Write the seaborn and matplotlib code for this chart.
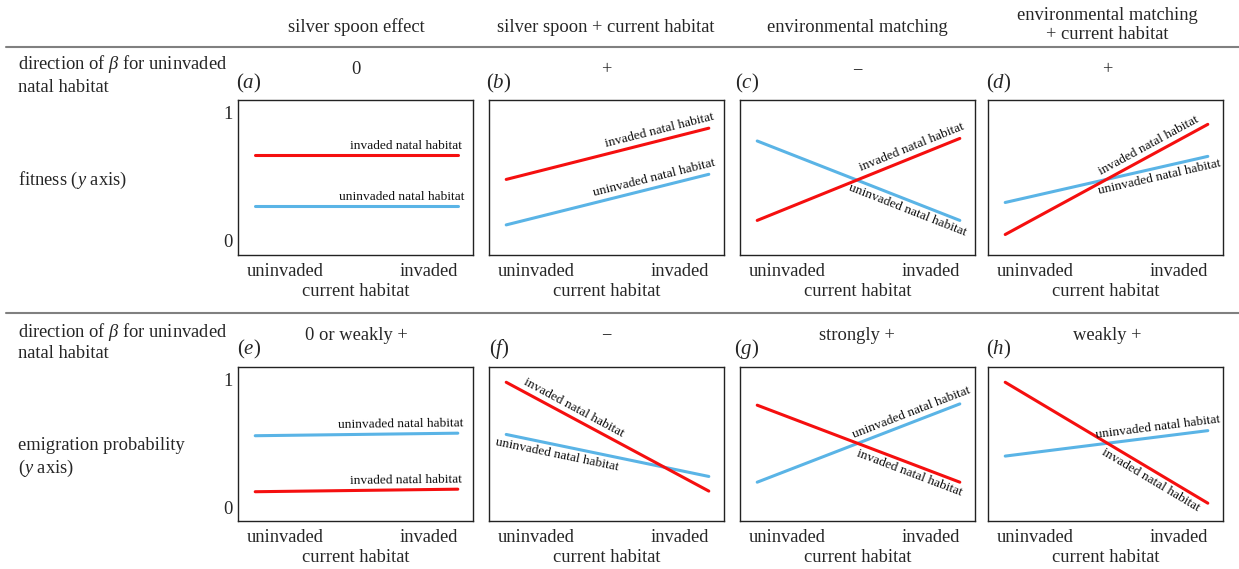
import numpy as np
import pandas as pd
import matplotlib
matplotlib.use("Agg")
import matplotlib.pyplot as plt
import matplotlib.transforms as mtransforms
from matplotlib.lines import Line2D
import seaborn as sns

sns.set_theme(style="white")
plt.rcParams['font.family'] = ['Liberation Serif', 'DejaVu Serif']
plt.rcParams['mathtext.fontset'] = 'custom'
plt.rcParams['mathtext.rm'] = 'Liberation Serif'
plt.rcParams['mathtext.it'] = 'Liberation Serif:italic'

# ---------------- data ----------------
column_titles = ["silver spoon effect", "silver spoon + current habitat",
                 "environmental matching", "environmental matching\n+ current habitat"]
panel_letters = ["a", "b", "c", "d", "e", "f", "g", "h"]
beta_directions = ["0", "+", "\u2212", "+", "0 or weakly +", "\u2212", "strongly +", "weakly +"]
x_ticklabels = ["uninvaded", "invaded"]
current_habitat = [0.0, 1.0]

# (start, end) values at uninvaded / invaded current habitat
invaded_natal = [(0.67, 0.67), (0.48, 0.88), (0.16, 0.80), (0.05, 0.91),
                 (0.12, 0.14), (0.98, 0.125), (0.80, 0.195), (0.98, 0.03)]
uninvaded_natal = [(0.27, 0.27), (0.125, 0.52), (0.78, 0.16), (0.30, 0.66),
                   (0.56, 0.58), (0.57, 0.24), (0.195, 0.81), (0.40, 0.60)]

# label placement: (x centre along line, side: +1 above / -1 below)
inv_label = [(0.745, 1), (0.77, 1), (0.78, 1), (0.73, 1),
             (0.745, 1), (0.31, 1), (0.77, -1), (0.74, -1)]
uninv_label = [(0.725, 1), (0.74, 1), (0.76, -1), (0.75, -1),
               (0.72, 1), (0.26, -1), (0.78, 1), (0.76, 1)]

RED = "#f50f0f"
BLUE = "#5ab4e6"
W, H = 1239, 569
fig = plt.figure(figsize=(W / 100, H / 100), dpi=100)

col_left = [238, 489, 740, 988]
col_w = 235
row_top = [100, 367]
row_h = [155, 154]

MAIN = 13.3
LAB = 9.6

def fx(px):
    return px / W

def fy(py):
    return 1 - py / H

axes = []
for i in range(8):
    r, c = divmod(i, 4)
    ax = fig.add_axes([fx(col_left[c]), fy(row_top[r] + row_h[r]), col_w / W, row_h[r] / H])
    axes.append(ax)

for i, ax in enumerate(axes):
    r, c = divmod(i, 4)
    df = pd.DataFrame({
        "current": current_habitat * 2,
        "value": list(invaded_natal[i]) + list(uninvaded_natal[i]),
        "natal": ["invaded"] * 2 + ["uninvaded"] * 2,
    })
    sns.lineplot(data=df, x="current", y="value", hue="natal",
                 palette={"invaded": RED, "uninvaded": BLUE},
                 hue_order=["uninvaded", "invaded"],
                 linewidth=2.2, legend=False, ax=ax)
    ax.set_xlim(-0.085, 1.075)
    ax.set_ylim(-0.11, 1.10)
    ax.set_xticks([0.15, 0.855])
    ax.set_xticklabels(x_ticklabels, fontsize=MAIN)
    ax.tick_params(axis="x", length=0, pad=5.5)
    ax.tick_params(axis="y", length=0, pad=4)
    if c == 0:
        ax.set_yticks([0, 1])
        ax.set_yticklabels(["0", "1"], fontsize=MAIN)
    else:
        ax.set_yticks([])
    ax.set_ylabel("")
    ax.set_xlabel("current habitat", fontsize=MAIN, labelpad=2.5)
    for s in ax.spines.values():
        s.set_visible(True)
        s.set_color("#222222")
        s.set_linewidth(1.0)
    ax.set_facecolor("white")

# line labels
for i, ax in enumerate(axes):
    for vals, (xc, side), txt in [(invaded_natal[i], inv_label[i], "invaded natal habitat"),
                                  (uninvaded_natal[i], uninv_label[i], "uninvaded natal habitat")]:
        y0, y1 = vals
        yc = y0 + (y1 - y0) * xc
        p0 = ax.transData.transform((0, y0))
        p1 = ax.transData.transform((1, y1))
        d = p1 - p0
        ang = np.degrees(np.arctan2(d[1], d[0]))
        n = np.array([-d[1], d[0]]) / np.hypot(*d)
        off = n * 9.5 * side
        tr = mtransforms.offset_copy(ax.transData, fig=fig, x=off[0], y=off[1], units="dots")
        ax.text(xc, yc, txt, transform=tr, rotation=ang, rotation_mode="anchor",
                ha="center", va="center", fontsize=LAB, color="#111111")

# column titles
col_centres = [356, 606, 857, 1107]
for c in range(4):
    fig.text(fx(col_centres[c]), fy(27 if c < 3 else 25), column_titles[c], ha="center", va="center",
             fontsize=MAIN, linespacing=1.15)

# horizontal rules
for py in [47, 313]:
    fig.add_artist(Line2D([fx(6), 1.0], [fy(py), fy(py)], color="#808080", linewidth=1.5))

# row labels
fig.text(fx(18), fy(64), r"direction of $\beta$ for uninvaded", ha="left", va="center", fontsize=MAIN)
fig.text(fx(18), fy(87), "natal habitat", ha="left", va="center", fontsize=MAIN)
fig.text(fx(18), fy(180), r"fitness ($y$ axis)", ha="left", va="center", fontsize=MAIN)
fig.text(fx(18), fy(332), r"direction of $\beta$ for uninvaded", ha="left", va="center", fontsize=MAIN)
fig.text(fx(18), fy(353), "natal habitat", ha="left", va="center", fontsize=MAIN)
fig.text(fx(18), fy(446), "emigration probability", ha="left", va="center", fontsize=MAIN)
fig.text(fx(18), fy(468), r"($y$ axis)", ha="left", va="center", fontsize=MAIN)

# panel letters and beta directions
letter_x = [249, 499, 747, 999]
beta_y = [70, 335]
letter_y = [83, 349]
for i in range(8):
    r, c = divmod(i, 4)
    fig.text(fx(letter_x[c]), fy(letter_y[r]), r"$(%s)$" % panel_letters[i], ha="center", va="center",
             fontsize=15)
    fig.text(fx(col_centres[c]), fy(beta_y[r]), beta_directions[i], ha="center", va="center",
             fontsize=MAIN)

fig.savefig("out.png", dpi=100, facecolor="white")
